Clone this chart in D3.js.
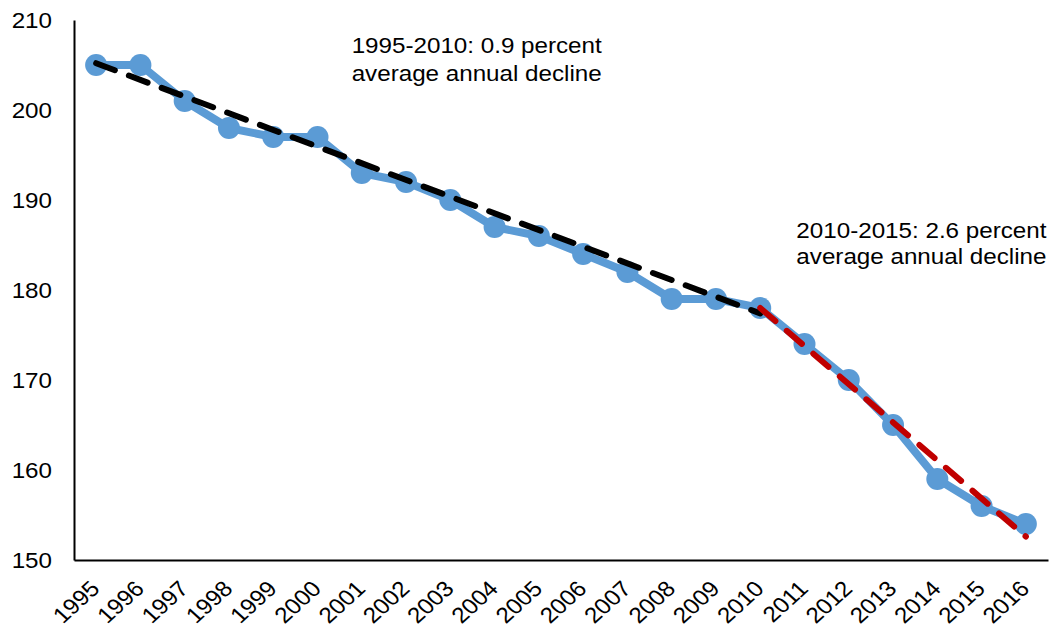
<!DOCTYPE html>
<html>
<head>
<meta charset="utf-8">
<script src="https://cdn.jsdelivr.net/npm/d3@7"></script>
<style>
  body { margin: 0; background: #fff; }
  svg { display: block; font-family: Arial, "Liberation Sans", sans-serif; }
</style>
</head>
<body>
<svg id="chart" width="1062" height="631"></svg>
<script>
const years = ["1995","1996","1997","1998","1999","2000","2001","2002","2003","2004","2005",
               "2006","2007","2008","2009","2010","2011","2012","2013","2014","2015","2016"];
const values = [205, 205, 201, 198, 197, 197, 193, 192, 190, 187, 186,
                184, 182, 179, 179, 178, 174, 170, 165, 159, 156, 154];
const yTicks = [150, 160, 170, 180, 190, 200, 210];

// Trend segments: [year, value] at each end
const trendEarly = [["1995", 205.2], ["2010", 177.4]];
const trendLate = [["2010", 178.0], ["2016", 152.6]];

const annotationEarly = ["1995-2010: 0.9 percent", "average annual decline"];
const annotationLate = ["2010-2015: 2.6 percent", "average annual decline"];

const svg = d3.select("#chart");
const margin = { left: 74, right: 14, top: 20, bottom: 71 };
const W = 1062, H = 631;
const FONT = "Arial, 'Liberation Sans', sans-serif";
const SX = 1.1;   // slightly wide lettering

const x = d3.scaleBand().domain(years).range([margin.left, W - margin.right]);
const cx = d => x(d) + x.bandwidth() / 2;
const y = d3.scaleLinear().domain([150, 210]).range([H - margin.bottom, margin.top]);

// Y axis
const yAxis = svg.append("g")
  .attr("transform", `translate(${margin.left},0)`)
  .call(d3.axisLeft(y).tickValues(yTicks).tickSize(0).tickPadding(0));
yAxis.select(".domain").attr("stroke", "#000").attr("stroke-width", 2);
yAxis.selectAll(".tick text")
  .attr("font-size", 22).attr("fill", "#000").attr("font-family", FONT)
  .attr("x", 0).attr("dy", "0.36em")
  .attr("transform", `translate(-22,0) scale(${SX},1)`);

// X axis with slanted year labels
const xAxis = svg.append("g")
  .attr("transform", `translate(0,${H - margin.bottom})`)
  .call(d3.axisBottom(x).tickSize(0).tickPadding(0));
xAxis.select(".domain").attr("stroke", "#000").attr("stroke-width", 2);
xAxis.selectAll(".tick text")
  .attr("font-size", 22).attr("fill", "#000").attr("font-family", FONT)
  .attr("text-anchor", "end")
  .attr("y", 0).attr("dy", 0)
  .attr("transform", `translate(5,30) scale(${SX},1) rotate(-45)`);

// Data line and markers
const line = d3.line().x((d, i) => cx(years[i])).y(d => y(d));
svg.append("path")
  .datum(values)
  .attr("d", line)
  .attr("fill", "none")
  .attr("stroke", "#5B9BD5")
  .attr("stroke-width", 8)
  .attr("stroke-linejoin", "round");

svg.append("g").selectAll("circle")
  .data(values)
  .join("circle")
  .attr("cx", (d, i) => cx(years[i]))
  .attr("cy", d => y(d))
  .attr("r", 11)
  .attr("fill", "#5B9BD5");

// Dashed trend lines
const trendLine = d3.line().x(d => cx(d[0])).y(d => y(d[1]));
[[trendEarly, "#000"], [trendLate, "#C00000"]].forEach(([seg, color]) => {
  svg.append("path")
    .datum(seg)
    .attr("d", trendLine)
    .attr("fill", "none")
    .attr("stroke", color)
    .attr("stroke-width", 6)
    .attr("stroke-dasharray", "20,15")
    .attr("stroke-linecap", "round");
});

// Text notes beside each trend
function note(lines, px, py, gap) {
  const t = svg.append("text")
    .attr("transform", `translate(${px},${py}) scale(${SX},1)`)
    .attr("font-size", 22).attr("font-family", FONT).attr("fill", "#000");
  lines.forEach((ln, i) => t.append("tspan").attr("x", 0).attr("y", i * gap).text(ln));
}
note(annotationEarly, x("2001") + 12, y(206.3), 28);
note(annotationLate, x("2011") + 14, y(185.8), 26);
</script>
</body>
</html>
